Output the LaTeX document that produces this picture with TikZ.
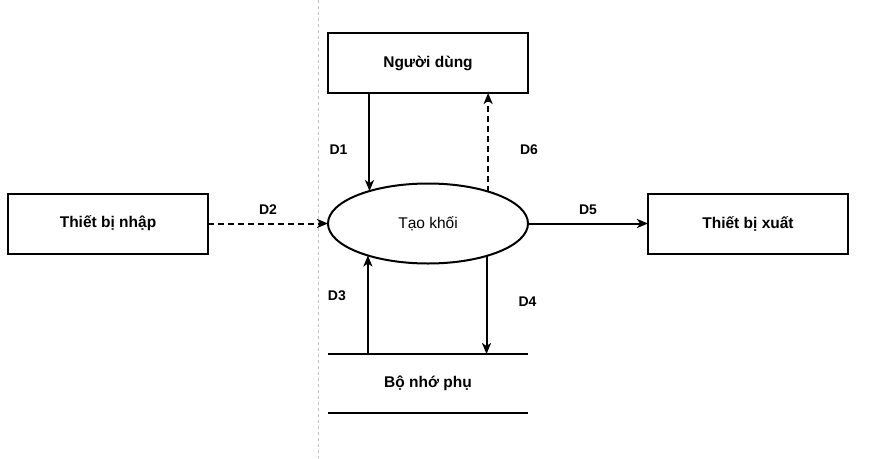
\documentclass[tikz,border=0pt]{standalone}
\usepackage{fontspec}
\setmainfont{Liberation Sans}
\usetikzlibrary{shapes.geometric,arrows.meta}

\begin{document}
\begin{tikzpicture}[x=1pt,y=-1pt,line width=2pt,
  >={Stealth[length=11pt,width=9pt,inset=3pt]},
  entity/.style={draw,rectangle,minimum width=200pt,minimum height=60pt,outer sep=0pt,
    font=\fontsize{15.5}{18}\selectfont\bfseries},
  process/.style={draw,ellipse,minimum width=200pt,minimum height=80pt,inner sep=0pt,outer sep=0pt,
    font=\fontsize{15.5}{18}\selectfont},
  store/.style={minimum width=200pt,minimum height=59pt,outer sep=0pt,
    font=\fontsize{15.5}{18}\selectfont\bfseries},
  flow/.style={font=\fontsize{14}{16}\selectfont\bfseries,inner sep=0pt},
  dashline/.style={dash pattern=on 6pt off 4pt}]
  \useasboundingbox (0,0) rectangle (877,458);
  \draw[black!25,line width=1pt,dash pattern=on 3pt off 3pt] (318.5,0) -- (318.5,458);

  \node[entity](user) at (428,63) {Người dùng};
  \node[entity](input) at (108,223.5) {Thiết bị nhập};
  \node[entity](output) at (748,223.5) {Thiết bị xuất};
  \node[process](proc) at (428,223.5) {Tạo khối};
  \node[store](store) at (428,383.5) {Bộ nhớ phụ};
  \draw (store.north west) -- (store.north east);
  \draw (store.south west) -- (store.south east);

  \path[->]
  (user.south -| proc.151.5) edge node[flow,left=21pt,pos=.58] {D1} (proc.151.5)
  (proc.28.5) edge[dashline] node[flow,right=31pt,pos=.42] {D6} (user.south -| proc.28.5)
  (input) edge[dashline] node[flow,above=8pt] {D2} (proc)
  (proc) edge node[flow,above=8pt] {D5} (output)
  (store.north -| proc.208.5) edge node[flow,left=21pt,pos=.59] {D3} (proc.208.5)
  (proc.331.5) edge node[flow,right=31pt,pos=.47] {D4} (store.north -| proc.331.5);
\end{tikzpicture}
\end{document}
